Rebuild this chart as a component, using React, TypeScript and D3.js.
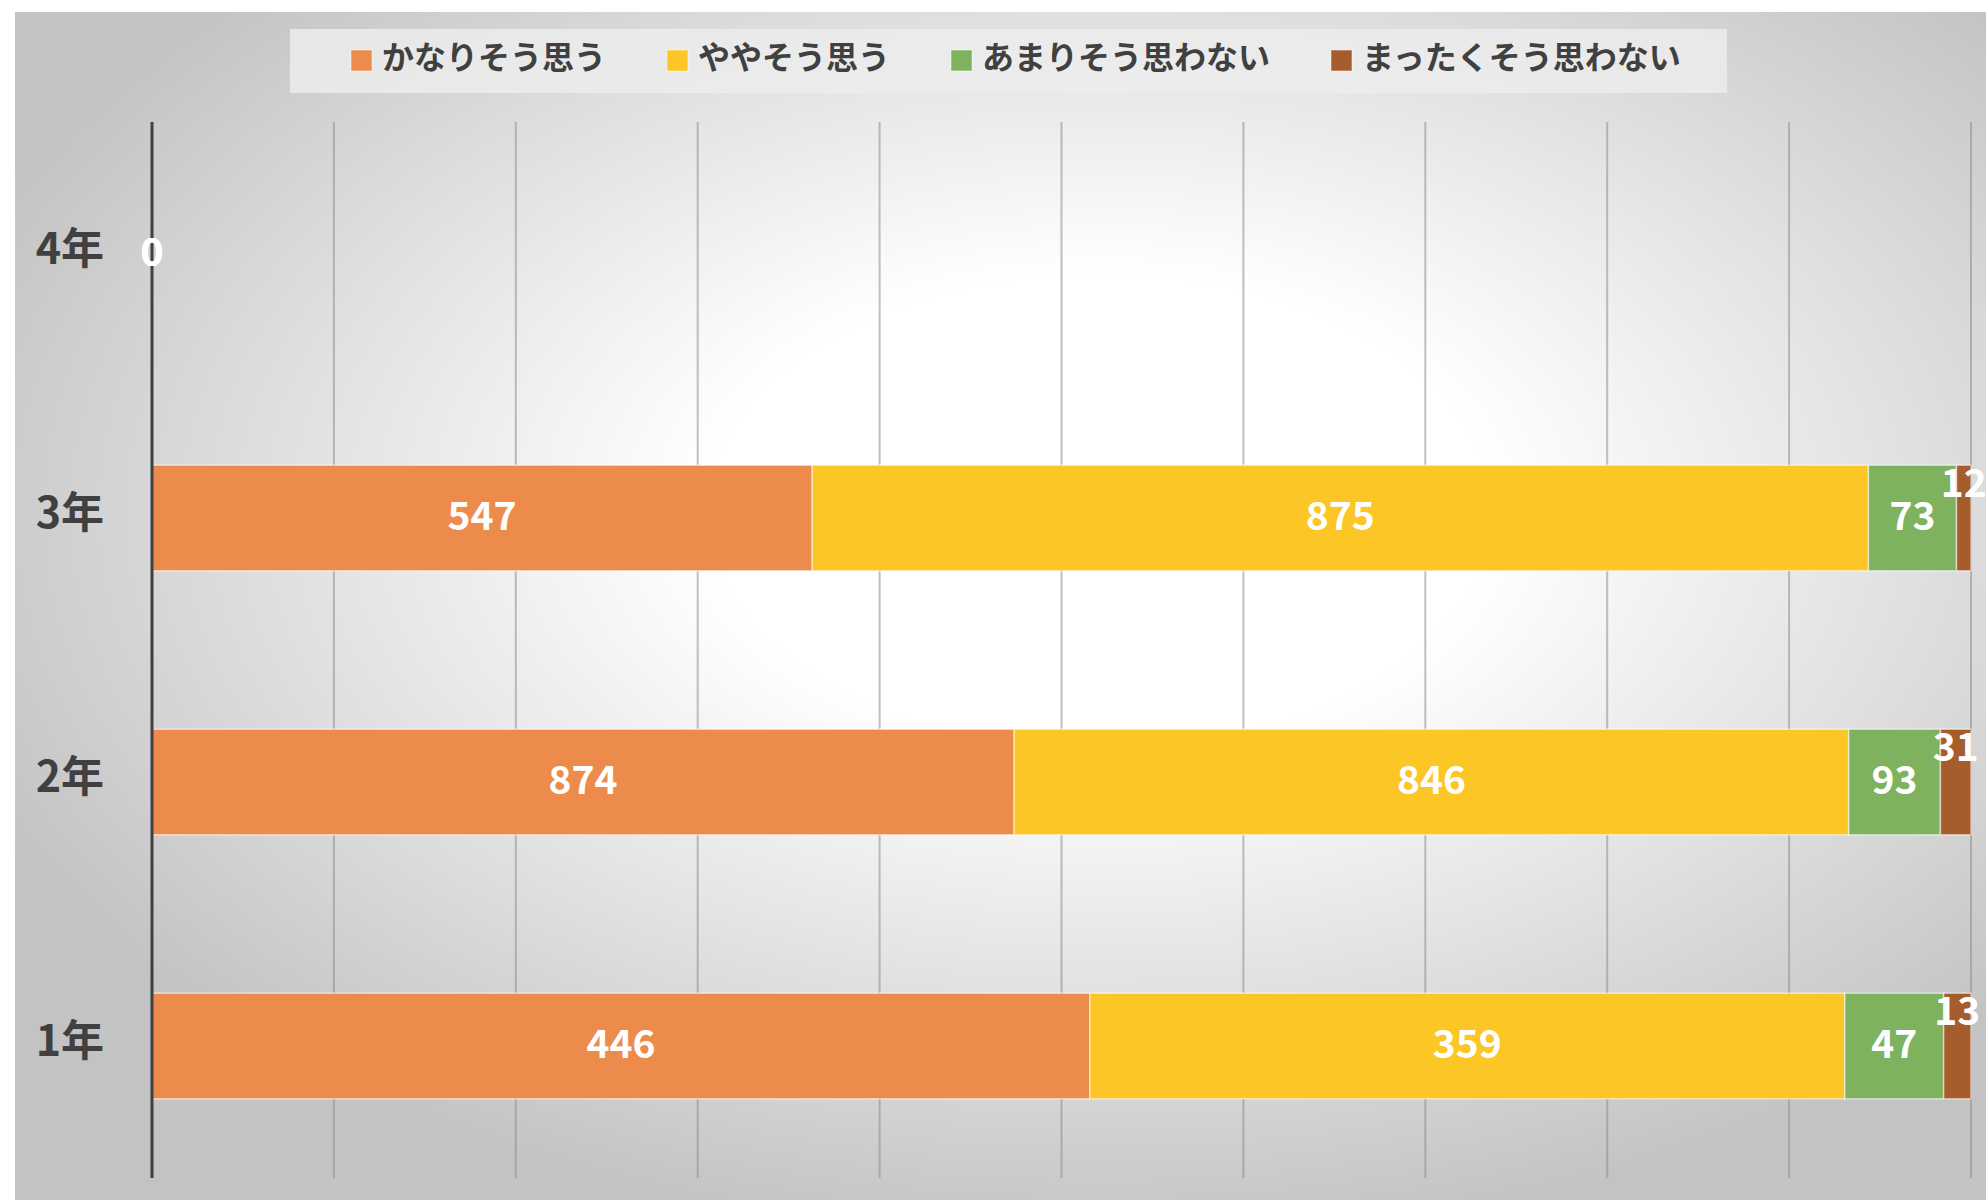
import React from 'react';
import * as d3 from 'd3';

// 学年ごとの回答数（100%積み上げ横棒）
const grades = ['4年', '3年', '2年', '1年'];
const seriesNames = ['かなりそう思う', 'ややそう思う', 'あまりそう思わない', 'まったくそう思わない'];
const kanari = [0, 547, 874, 446];
const yaya = [0, 875, 846, 359];
const amari = [0, 73, 93, 47];
const mattaku = [0, 12, 31, 13];
const colors = ['#ED8B4C', '#FCC626', '#7FB25E', '#A65D2C'];

const W = 1986;
const H = 1200;
const FONT = '"Noto Sans CJK JP", "Noto Sans", sans-serif';

const App = () => {
  const values = [kanari, yaya, amari, mattaku];
  const rows = grades.map((g, i) => {
    const row: any = { grade: g };
    seriesNames.forEach((s, k) => (row[s] = values[k][i]));
    return row;
  });

  const stack = d3.stack<any>().keys(seriesNames).offset(d3.stackOffsetExpand);
  const layers = stack(rows);

  const x = d3.scaleLinear().domain([0, 1]).range([152, 1971]);
  const y = d3
    .scaleBand()
    .domain(grades)
    .range([122, 1178])
    .paddingInner(0.6)
    .paddingOuter(0.3);

  const plotTop = 122;
  const plotBottom = 1178;

  // legend layout
  const legendFont = 32;
  let cursor = 351;
  const legendItems = seriesNames.map((name, i) => {
    const item = { name, color: colors[i], x: cursor };
    cursor += 22 + 9 + name.length * legendFont + 61;
    return item;
  });

  return (
    <svg
      width={W}
      height={H}
      style={{ position: 'absolute', left: 0, top: 0, background: '#ffffff' }}
    >
      <defs>
        <radialGradient id="bg" cx="0.55" cy="0.42" r="0.62">
          <stop offset="0" stopColor="#ffffff" />
          <stop offset="0.32" stopColor="#ffffff" />
          <stop offset="1" stopColor="#c3c3c3" />
        </radialGradient>
      </defs>
      <rect x={15} y={12} width={W - 15} height={H - 12} fill="url(#bg)" />

      {/* legend */}
      <rect x={290} y={29} width={1437} height={64} fill="#ececec" opacity={0.85} />
      {legendItems.map((d) => (
        <g key={d.name}>
          <rect
            x={d.x}
            y={50}
            width={21}
            height={21}
            fill={d.color}
            stroke="#ffffff"
            strokeOpacity={0.5}
            strokeWidth={1}
          />
          <text
            x={d.x + 31}
            y={55}
            dominantBaseline="central"
            fontFamily={FONT}
            fontWeight="bold"
            fontSize={legendFont}
            fill="#404040"
          >
            {d.name}
          </text>
        </g>
      ))}

      {/* gridlines */}
      {x.ticks(10).map((t) => (
        <line
          key={t}
          x1={x(t)}
          x2={x(t)}
          y1={plotTop}
          y2={plotBottom}
          stroke="#8c8c8c"
          strokeOpacity={0.55}
          strokeWidth={2}
        />
      ))}

      {/* bars */}
      {layers.map((layer, k) => (
        <g key={layer.key}>
          {layer.map((d, i) => {
            const w = x(d[1]) - x(d[0]);
            if (!(w > 0)) return null;
            return (
              <rect
                key={i}
                x={x(d[0])}
                y={y(grades[i])}
                width={w}
                height={y.bandwidth()}
                fill={colors[k]}
                stroke="#ffffff"
                strokeOpacity={0.55}
                strokeWidth={1.5}
              />
            );
          })}
        </g>
      ))}

      {/* axis line */}
      <line x1={152} x2={152} y1={plotTop} y2={plotBottom} stroke="#404040" strokeWidth={3} />

      {/* category labels */}
      {grades.map((g) => (
        <text
          key={g}
          x={104}
          y={(y(g) as number) + y.bandwidth() / 2 - 9}
          textAnchor="end"
          dominantBaseline="central"
          fontFamily={FONT}
          fontWeight="bold"
          fontSize={43}
          fill="#404040"
        >
          {g}
        </text>
      ))}

      {/* data labels */}
      {layers.map((layer, k) => (
        <g key={layer.key}>
          {layer.map((d, i) => {
            const v = values[k][i];
            const w = x(d[1] || 0) - x(d[0] || 0);
            const cx = (x(d[0] || 0) + x(d[1] || 0)) / 2;
            const cy = (y(grades[i]) as number) + y.bandwidth() / 2 - 5;
            const shift = v > 0 && w < 45 ? -33 : 0;
            return (
              <text
                key={i}
                x={cx}
                y={cy + shift}
                textAnchor="middle"
                dominantBaseline="central"
                fontFamily={FONT}
                fontWeight="bold"
                fontSize={39}
                fill="#ffffff"
              >
                {v}
              </text>
            );
          })}
        </g>
      ))}
    </svg>
  );
};

export default App;
